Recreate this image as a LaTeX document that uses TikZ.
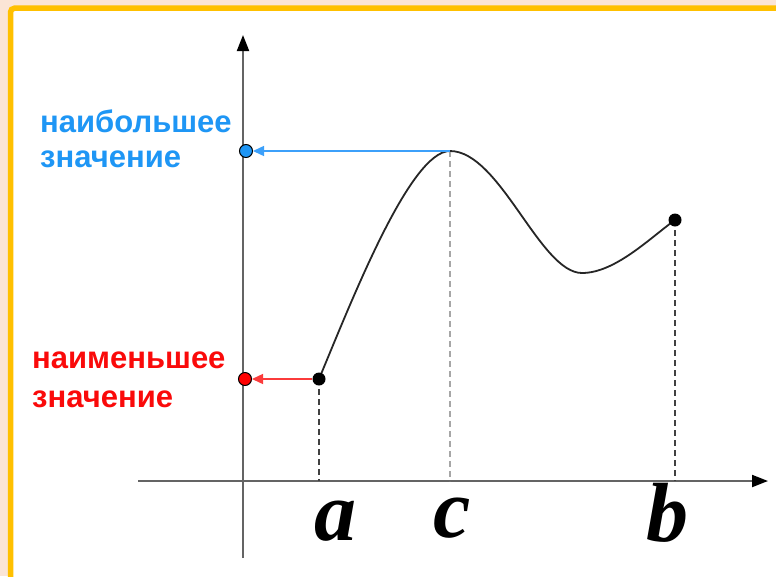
\documentclass[tikz,border=0pt]{standalone}
\usepackage{fontspec}
\usetikzlibrary{arrows.meta}
\newfontfamily\lblfont{Liberation Sans}
\newfontfamily\letfont{Liberation Serif}
\definecolor{bgpink}{RGB}{251,229,214}
\definecolor{bord}{RGB}{255,192,0}
\definecolor{tblue}{RGB}{30,150,245}
\definecolor{lblue}{RGB}{60,160,250}
\definecolor{tred}{RGB}{250,10,10}
\definecolor{axisgray}{RGB}{100,100,100}
\tikzset{
  axisline/.style={draw=axisgray, line width=2pt, -{Triangle[length=16pt,width=12pt,fill=black,color=black]}},
  curveline/.style={draw=black!85, line width=1.8pt},
  dot/.style={circle, fill=black, inner sep=0pt, minimum size=13pt},
  valdot/.style={circle, draw=black, line width=1pt, inner sep=0pt, minimum size=13pt},
  darkdash/.style={draw=black!75, line width=1.6pt, dash pattern=on 6pt off 4pt},
  lightdash/.style={draw=black!35, line width=1.2pt, dash pattern=on 6pt off 4pt},
  bluearrow/.style={draw=lblue, line width=1.4pt, -{Triangle[length=11pt,width=10pt]}},
  redarrow/.style={draw=tred!80, line width=1.4pt, -{Triangle[length=11pt,width=10pt]}},
  valtext/.style={font=\lblfont\bfseries\fontsize{31}{36}\selectfont, anchor=base west, inner sep=0pt},
  lettext/.style={font=\letfont\bfseries\itshape\fontsize{84}{84}\selectfont, anchor=base, inner sep=0pt}
}
\begin{document}
\begin{tikzpicture}[x=1pt,y=-1pt]
\useasboundingbox (0,0) rectangle (776,576);
\fill[bgpink] (0,0) rectangle (776,576);
\draw[bord, fill=white, line width=5.5pt, rounded corners=4pt] (10.5,8.2) rectangle (800,600);
% axes
\coordinate (ybot) at (243,558);
\coordinate (ytop) at (243,35);
\coordinate (xleft) at (138,481);
\coordinate (xright) at (768,481);
\draw[axisline] (ybot) -- (ytop);
\draw[axisline] (xleft) -- (xright);
% key points
\coordinate (A) at (319,379);
\coordinate (C) at (450,151);
\coordinate (M) at (582,273);
\coordinate (B) at (675,220);
\coordinate (Ax) at (319,481);
\coordinate (Cx) at (450,481);
\coordinate (Bx) at (675,481);
% dashed drops
\draw[darkdash] (A) -- (Ax);
\draw[lightdash] (C) -- (Cx);
\draw[darkdash] (B) -- (Bx);
% curve
\draw[curveline] (A) .. controls (352,300) and (410,151) .. (C)
  .. controls (500,151) and (540,273) .. (M)
  .. controls (615,273) and (650,238) .. (B);
% dots
\node[dot] (Adot) at (A) {};
\node[dot] (Bdot) at (B) {};
\node[valdot, fill=tblue] (maxdot) at (246,151) {};
\node[valdot, fill=red] (mindot) at (245,379) {};
\draw[bluearrow] (C) -- (maxdot);
\draw[redarrow] (Adot) -- (mindot);
% labels
\node[valtext, text=tblue] (max1) at (40,132) {наибольшее};
\node[valtext, text=tblue] (max2) at (40,167) {значение};
\node[valtext, text=tred] (min1) at (32,368) {наименьшее};
\node[valtext, text=tred] (min2) at (32,407) {значение};
\node[lettext] (la) at (335,540) {a};
\node[lettext] (lc) at (452,537) {c};
\node[lettext] (lb) at (667,541) {b};
\end{tikzpicture}
\end{document}
